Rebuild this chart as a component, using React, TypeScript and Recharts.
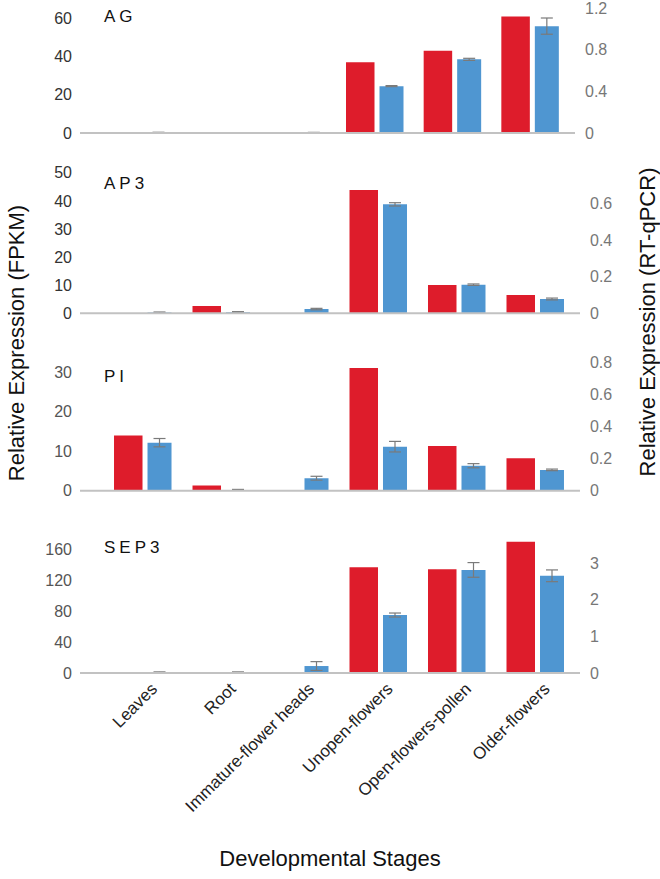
import React from 'react';
import { BarChart, Bar, XAxis, YAxis, ErrorBar } from 'recharts';

const stages = ['Leaves', 'Root', 'Immature-flower heads', 'Unopen-flowers', 'Open-flowers-pollen', 'Older-flowers'];

// red = RNA-seq (FPKM, left axis), blue = RT-qPCR (right axis) with error bars
const agFpkm = [0, 0, 0, 37, 43, 61];
const agQpcr = [0.005, 0.003, 0.004, 0.45, 0.707, 1.026];
const agErr = [0.002, 0.001, 0.002, 0.005, 0.01, 0.078];

const ap3Fpkm = [0, 2.6, 0, 43.9, 10.1, 6.5];
const ap3Qpcr = [0.004, 0.006, 0.023, 0.594, 0.156, 0.078];
const ap3Err = [0.003, 0.003, 0.004, 0.009, 0.004, 0.005];

const piFpkm = [14.0, 1.3, 0, 31.1, 11.3, 8.2];
const piQpcr = [0.3, 0.005, 0.078, 0.275, 0.156, 0.13];
const piErr = [0.026, 0.003, 0.012, 0.033, 0.013, 0.005];

const sep3Fpkm = [0, 0, 0, 136.4, 133.8, 169.4];
const sep3Qpcr = [0.02, 0.02, 0.19, 1.58, 2.81, 2.65];
const sep3Err = [0.01, 0.01, 0.12, 0.055, 0.2, 0.16];

const RED = '#DE1C2B';
const BLUE = '#4F96D1';
const FONT = '"Liberation Sans", Arial, Helvetica, sans-serif';

const StageTick = ({ x, y, payload }: any) => (
  <g transform={`translate(${x + 16},${y + 9})`}>
    <text textAnchor="end" transform="rotate(-45)" fontSize={17} fill="#222" fontFamily={FONT}>
      {payload.value}
    </text>
  </g>
);

const Panel = ({ fpkm, qpcr, err, leftMax, rightMax, leftTicks, rightTicks, top, plotTop, plotHeight, showX = false, rightWidth = 80, leftColor = '#555', rightColor = '#777' }: any) => {
  const rows = stages.map((s, i) => ({ stage: s, fpkm: fpkm[i], qpcr: qpcr[i], err: err[i] }));
  const xHeight = showX ? 170 : 2;
  const bottom = 12;
  const height = plotTop + plotHeight + xHeight + bottom;
  return (
    <div style={{ position: 'absolute', left: 0, top }}>
      <BarChart width={660} height={height} data={rows} margin={{ top: plotTop, right: 0, left: 0, bottom }} barGap={5}>
        <XAxis
          dataKey="stage"
          interval={0}
          height={xHeight}
          axisLine={{ stroke: '#C2C2C2', strokeWidth: 2 }}
          tickLine={false}
          tick={showX ? (p: any) => <StageTick {...p} /> : false}
          padding={{ left: 23, right: 6 }}
        />
        <YAxis
          yAxisId="left"
          width={80}
          domain={[0, leftMax]}
          ticks={leftTicks}
          interval={0}
          allowDataOverflow
          axisLine={false}
          tickLine={false}
          tick={{ fontSize: 16, fill: leftColor, fontFamily: FONT }}
        />
        <YAxis
          yAxisId="right"
          orientation="right"
          width={rightWidth}
          domain={[0, rightMax]}
          ticks={rightTicks}
          interval={0}
          allowDataOverflow
          axisLine={false}
          tickLine={false}
          tickMargin={4}
          tick={{ fontSize: 16, fill: rightColor, fontFamily: FONT, textAnchor: 'start' }}
        />
        <Bar yAxisId="left" dataKey="fpkm" fill={RED} barSize={28.5} isAnimationActive={false} />
        <Bar yAxisId="right" dataKey="qpcr" fill={BLUE} barSize={24} isAnimationActive={false}>
          <ErrorBar dataKey="err" width={6} stroke="#7A7A7A" strokeWidth={1.2} direction="y" />
        </Bar>
      </BarChart>
    </div>
  );
};

const titles = [
  { name: 'AG', y: 21.7 },
  { name: 'AP3', y: 189.3 },
  { name: 'PI', y: 381.7 },
  { name: 'SEP3', y: 552.7 },
];

export default function App() {
  return (
    <div style={{ position: 'absolute', left: 0, top: 0, width: 660, height: 879, background: '#fff', fontFamily: FONT }}>
      <Panel fpkm={agFpkm} qpcr={agQpcr} err={agErr} leftMax={65.4} rightMax={1.2}
        leftTicks={[0, 20, 40, 60]} rightTicks={[0, 0.4, 0.8, 1.2]}
        top={0} plotTop={8} plotHeight={125} rightWidth={85} leftColor="#333" />
      <Panel fpkm={ap3Fpkm} qpcr={ap3Qpcr} err={ap3Err} leftMax={50} rightMax={0.766}
        leftTicks={[0, 10, 20, 30, 40, 50]} rightTicks={[0, 0.2, 0.4, 0.6]}
        top={150} plotTop={22.8} plotHeight={140.5} leftColor="#333" />
      <Panel fpkm={piFpkm} qpcr={piQpcr} err={piErr} leftMax={32.6} rightMax={0.804}
        leftTicks={[0, 10, 20, 30]} rightTicks={[0, 0.2, 0.4, 0.6, 0.8]}
        top={340} plotTop={22} plotHeight={128.7} />
      <Panel fpkm={sep3Fpkm} qpcr={sep3Qpcr} err={sep3Err} leftMax={174.2} rightMax={3.68}
        leftTicks={[0, 40, 80, 120, 160]} rightTicks={[0, 1, 2, 3]}
        top={520} plotTop={18} plotHeight={135} showX />
      <svg width={660} height={879} style={{ position: 'absolute', left: 0, top: 0, pointerEvents: 'none' }}>
        {titles.map((t) => (
          <text key={t.name} x={104} y={t.y} fontSize={17} letterSpacing={4} fill="#111" fontFamily={FONT}>
            {t.name}
          </text>
        ))}
        <text transform="translate(24,343) rotate(-90)" textAnchor="middle" fontSize={22} fill="#111" fontFamily={FONT}>
          Relative Expression (FPKM)
        </text>
        <text transform="translate(655,322) rotate(-90)" textAnchor="middle" fontSize={22} fill="#111" fontFamily={FONT}>
          Relative Expression (RT-qPCR)
        </text>
        <text x={330} y={866} textAnchor="middle" fontSize={22} fill="#111" fontFamily={FONT}>
          Developmental Stages
        </text>
      </svg>
    </div>
  );
}
